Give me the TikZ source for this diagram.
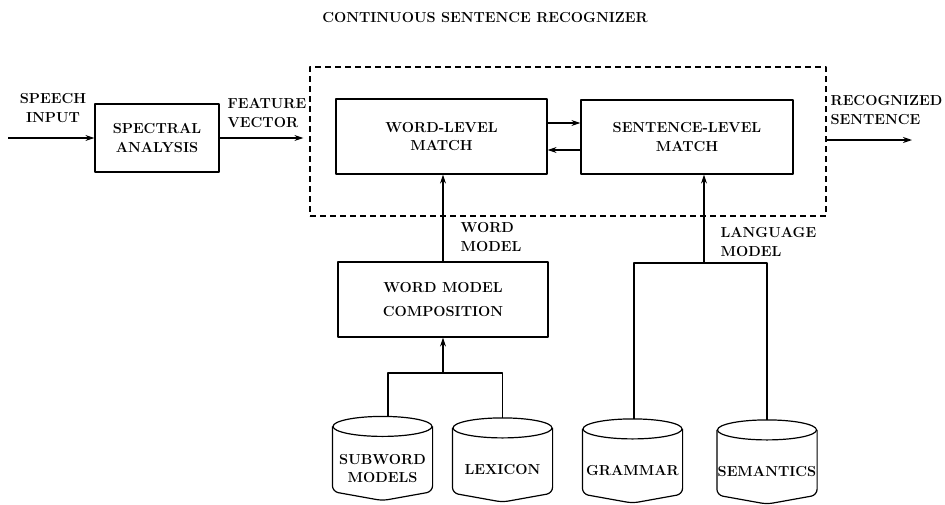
\documentclass[tikz,border=0pt]{standalone}
\usetikzlibrary{arrows.meta}
\begin{document}
\begin{tikzpicture}[x=1pt, y=-1pt, line width=1.2pt, line join=round,
		font=\fontsize{14.5}{18.5}\selectfont\bfseries, >={Stealth[length=9pt,width=6pt]},
		box/.style={draw, inner sep=0pt, align=center},
		store/.style={inner sep=0pt, minimum width=99pt, minimum height=63pt, align=center},
		lbl/.style={inner sep=0pt, align=left, anchor=west}]
	\useasboundingbox (0,0) rectangle (945,504);
	\node[inner sep=0pt] (title) at (485,18) {CONTINUOUS SENTENCE RECOGNIZER};
	\node[draw, dash pattern=on 6pt off 4pt, inner sep=0pt, minimum width=516pt, minimum height=149pt] (rec) at (568,141.5) {};
	\node[box, minimum width=124pt, minimum height=68pt] (spec) at (157,138) {SPECTRAL\\ANALYSIS};
	\node[box, minimum width=211pt, minimum height=75pt] (wlm) at (441.5,136.5) {WORD-LEVEL\\MATCH};
	\node[box, minimum width=212pt, minimum height=74pt] (slm) at (687,137) {SENTENCE-LEVEL\\MATCH};
	\node[box, minimum width=210pt, minimum height=75pt] (wmc) at (443,299.5) {WORD MODEL\\[6pt]COMPOSITION};
	\node[store] (subword) at (382.5,468.5) {SUBWORD\\MODELS};
	\node[store] (lexicon) at (502.5,470) {LEXICON};
	\node[store] (grammar) at (632.5,471) {GRAMMAR};
	\node[store] (semantics) at (767,472) {SEMANTICS};
	% cylinders
	\foreach \n in {subword,lexicon,grammar,semantics}{
		\draw[rounded corners=6pt] ([yshift=10pt]\n.north west) -- ([yshift=9pt]\n.south west) -- (\n.south) -- ([yshift=9pt]\n.south east) -- ([yshift=10pt]\n.north east);
		\draw ([yshift=10pt]\n.north) ellipse [x radius=49.5pt, y radius=10pt];
	}
	% labels
	\node[inner sep=0pt, align=center] (speech) at (53,108) {SPEECH\\INPUT};
	\node[lbl] (feat) at (227,113) {FEATURE\\VECTOR};
	\node[lbl] (recsent) at (830,110) {RECOGNIZED\\SENTENCE};
	\node[lbl] (wmlbl) at (460,237) {WORD\\MODEL};
	\node[lbl] (lmlbl) at (720,242) {LANGUAGE\\MODEL};
	% connectors
	\coordinate (in) at (8,138);
	\coordinate (outE) at (912,140);
	\coordinate (wj) at (443,373);
	\coordinate (lj) at (704,263);
	\draw[->] (in) -- (spec.west);
	\draw[->] (spec.east) -- ([xshift=-6pt]rec.west |- spec.east);
	\draw[->] (wlm.east |- 0,123) -- (slm.west |- 0,123);
	\draw[->] (slm.west |- 0,150) -- (wlm.east |- 0,150);
	\draw[->] (rec.east |- outE) -- (outE);
	\draw[->] (wmc.north) -- (wmc.north |- wlm.south);
	\draw ([shift={(5.5pt,20pt)}]subword.north) |- (wj) -| ([yshift=20pt]lexicon.north);
	\draw[->] (wj) -- (wj |- wmc.south);
	\draw ([xshift=1.5pt,yshift=20pt]grammar.north) |- (lj) -| ([yshift=20pt]semantics.north);
	\draw[->] (lj) -- (lj |- slm.south);
\end{tikzpicture}
\end{document}
